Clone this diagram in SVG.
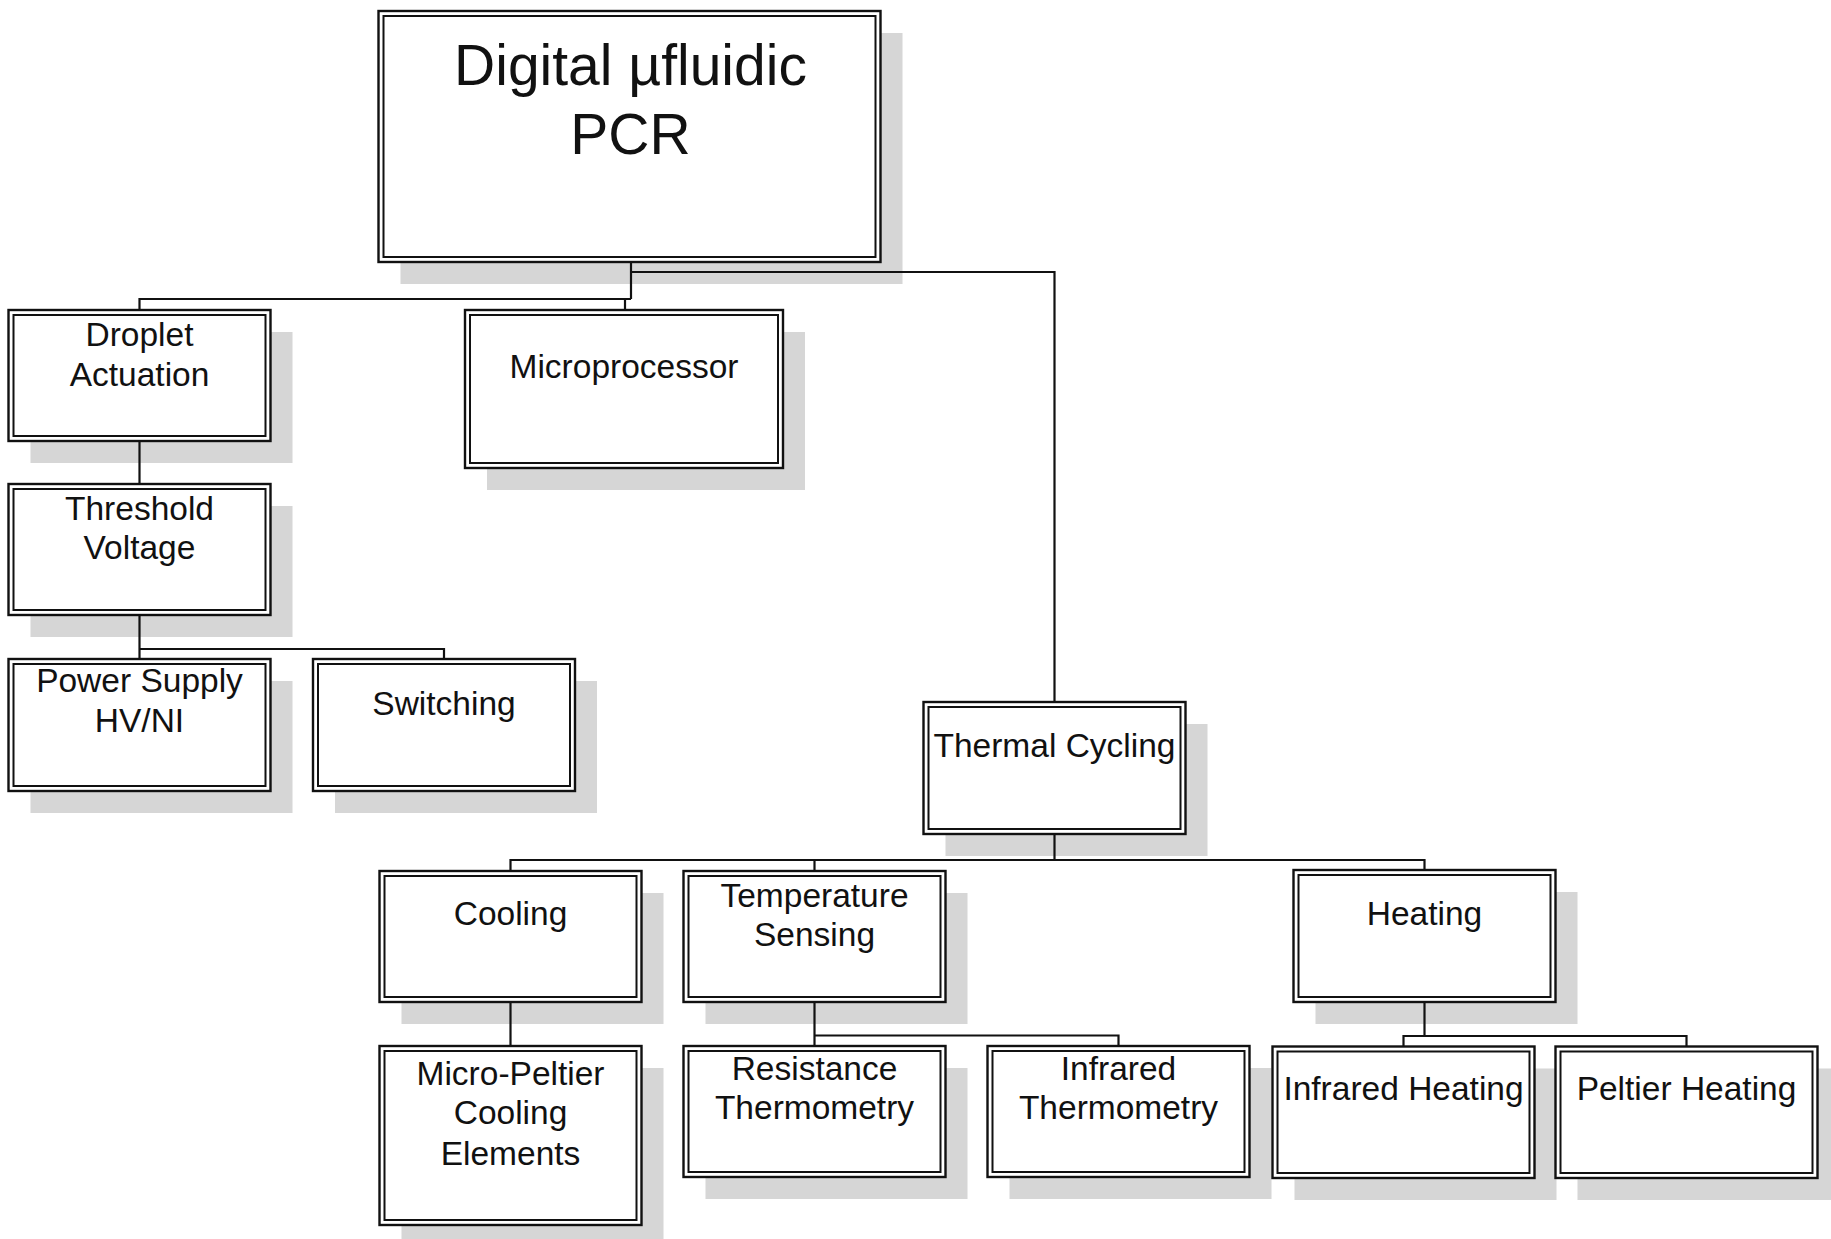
<svg xmlns="http://www.w3.org/2000/svg" width="1831" height="1239" viewBox="0 0 1831 1239">
<style>
.sh{fill:#d6d6d6;stroke:none}
.bo{fill:#fff;stroke:#111;stroke-width:2.4}
.bi{fill:none;stroke:#111;stroke-width:2}
.t{font-family:"Liberation Sans",Arial,sans-serif;font-size:33.5px;fill:#111;text-anchor:middle}
.tl{font-size:57px}
.c{fill:none;stroke:#111;stroke-width:2.2}
</style>
<rect width="1831" height="1239" fill="#fff"/>
<g id="root">
<rect class="sh" x="400.5" y="33" width="502" height="251"/>
<rect class="bo" x="378.5" y="11" width="502" height="251"/>
<rect class="bi" x="383.5" y="16" width="492" height="241"/>
<text class="t tl" x="630.5" y="85">Digital µfluidic</text>
<text class="t tl" x="630.5" y="154">PCR</text>
</g>
<g id="droplet">
<rect class="sh" x="30.5" y="332" width="262" height="131"/>
<rect class="bo" x="8.5" y="310" width="262" height="131"/>
<rect class="bi" x="13.5" y="315" width="252" height="121"/>
<text class="t" x="139.5" y="346">Droplet</text>
<text class="t" x="139.5" y="386">Actuation</text>
</g>
<g id="microprocessor">
<rect class="sh" x="487" y="332" width="318" height="158"/>
<rect class="bo" x="465" y="310" width="318" height="158"/>
<rect class="bi" x="470" y="315" width="308" height="148"/>
<text class="t" x="624" y="378">Microprocessor</text>
</g>
<g id="threshold">
<rect class="sh" x="30.5" y="506" width="262" height="131"/>
<rect class="bo" x="8.5" y="484" width="262" height="131"/>
<rect class="bi" x="13.5" y="489" width="252" height="121"/>
<text class="t" x="139.5" y="520">Threshold</text>
<text class="t" x="139.5" y="559">Voltage</text>
</g>
<g id="power">
<rect class="sh" x="30.5" y="681" width="262" height="132"/>
<rect class="bo" x="8.5" y="659" width="262" height="132"/>
<rect class="bi" x="13.5" y="664" width="252" height="122"/>
<text class="t" x="139.5" y="692">Power Supply</text>
<text class="t" x="139.5" y="732">HV/NI</text>
</g>
<g id="switching">
<rect class="sh" x="335" y="681" width="262" height="132"/>
<rect class="bo" x="313" y="659" width="262" height="132"/>
<rect class="bi" x="318" y="664" width="252" height="122"/>
<text class="t" x="444" y="715">Switching</text>
</g>
<g id="thermal">
<rect class="sh" x="945.5" y="724" width="262" height="132"/>
<rect class="bo" x="923.5" y="702" width="262" height="132"/>
<rect class="bi" x="928.5" y="707" width="252" height="122"/>
<text class="t" x="1054.5" y="756.5">Thermal Cycling</text>
</g>
<g id="cooling">
<rect class="sh" x="401.5" y="893" width="262" height="131"/>
<rect class="bo" x="379.5" y="871" width="262" height="131"/>
<rect class="bi" x="384.5" y="876" width="252" height="121"/>
<text class="t" x="510.5" y="925">Cooling</text>
</g>
<g id="tempsensing">
<rect class="sh" x="705.5" y="893" width="262" height="131"/>
<rect class="bo" x="683.5" y="871" width="262" height="131"/>
<rect class="bi" x="688.5" y="876" width="252" height="121"/>
<text class="t" x="814.5" y="906.5">Temperature</text>
<text class="t" x="814.5" y="945.5">Sensing</text>
</g>
<g id="heating">
<rect class="sh" x="1315.5" y="892" width="262" height="132"/>
<rect class="bo" x="1293.5" y="870" width="262" height="132"/>
<rect class="bi" x="1298.5" y="875" width="252" height="122"/>
<text class="t" x="1424.5" y="925">Heating</text>
</g>
<g id="micropeltier">
<rect class="sh" x="401.5" y="1068" width="262" height="179"/>
<rect class="bo" x="379.5" y="1046" width="262" height="179"/>
<rect class="bi" x="384.5" y="1051" width="252" height="169"/>
<text class="t" x="510.5" y="1084.5">Micro-Peltier</text>
<text class="t" x="510.5" y="1124">Cooling</text>
<text class="t" x="510.5" y="1164.5">Elements</text>
</g>
<g id="resistance">
<rect class="sh" x="705.5" y="1068" width="262" height="131"/>
<rect class="bo" x="683.5" y="1046" width="262" height="131"/>
<rect class="bi" x="688.5" y="1051" width="252" height="121"/>
<text class="t" x="814.5" y="1079.5">Resistance</text>
<text class="t" x="814.5" y="1119">Thermometry</text>
</g>
<g id="irthermometry">
<rect class="sh" x="1009.5" y="1068" width="262" height="131"/>
<rect class="bo" x="987.5" y="1046" width="262" height="131"/>
<rect class="bi" x="992.5" y="1051" width="252" height="121"/>
<text class="t" x="1118.5" y="1079.5">Infrared</text>
<text class="t" x="1118.5" y="1119">Thermometry</text>
</g>
<g id="irheating">
<rect class="sh" x="1294.5" y="1068.5" width="262" height="131.5"/>
<rect class="bo" x="1272.5" y="1046.5" width="262" height="131.5"/>
<rect class="bi" x="1277.5" y="1051.5" width="252" height="121.5"/>
<text class="t" x="1403.5" y="1100">Infrared Heating</text>
</g>
<g id="peltierheating">
<rect class="sh" x="1577.5" y="1068.5" width="262" height="131.5"/>
<rect class="bo" x="1555.5" y="1046.5" width="262" height="131.5"/>
<rect class="bi" x="1560.5" y="1051.5" width="252" height="121.5"/>
<text class="t" x="1686.5" y="1100">Peltier Heating</text>
</g>
<g id="connectors">
<path class="c" d="M631 262V299"/>
<path class="c" d="M139.5 310V299H631"/>
<path class="c" d="M625 299V310"/>
<path class="c" d="M631 272H1054.5V702"/>
<path class="c" d="M139.5 441V484"/>
<path class="c" d="M139.5 615V659"/>
<path class="c" d="M139.5 649H444V659"/>
<path class="c" d="M1054.5 834V860"/>
<path class="c" d="M510.5 871V860H1424.5V870"/>
<path class="c" d="M814.5 860V871"/>
<path class="c" d="M510.5 1002V1046"/>
<path class="c" d="M814.5 1002V1046"/>
<path class="c" d="M814.5 1035.5H1118.5V1046"/>
<path class="c" d="M1424.5 1002V1036"/>
<path class="c" d="M1403.5 1046.5V1036H1686.5V1046.5"/>
</g>
</svg>
